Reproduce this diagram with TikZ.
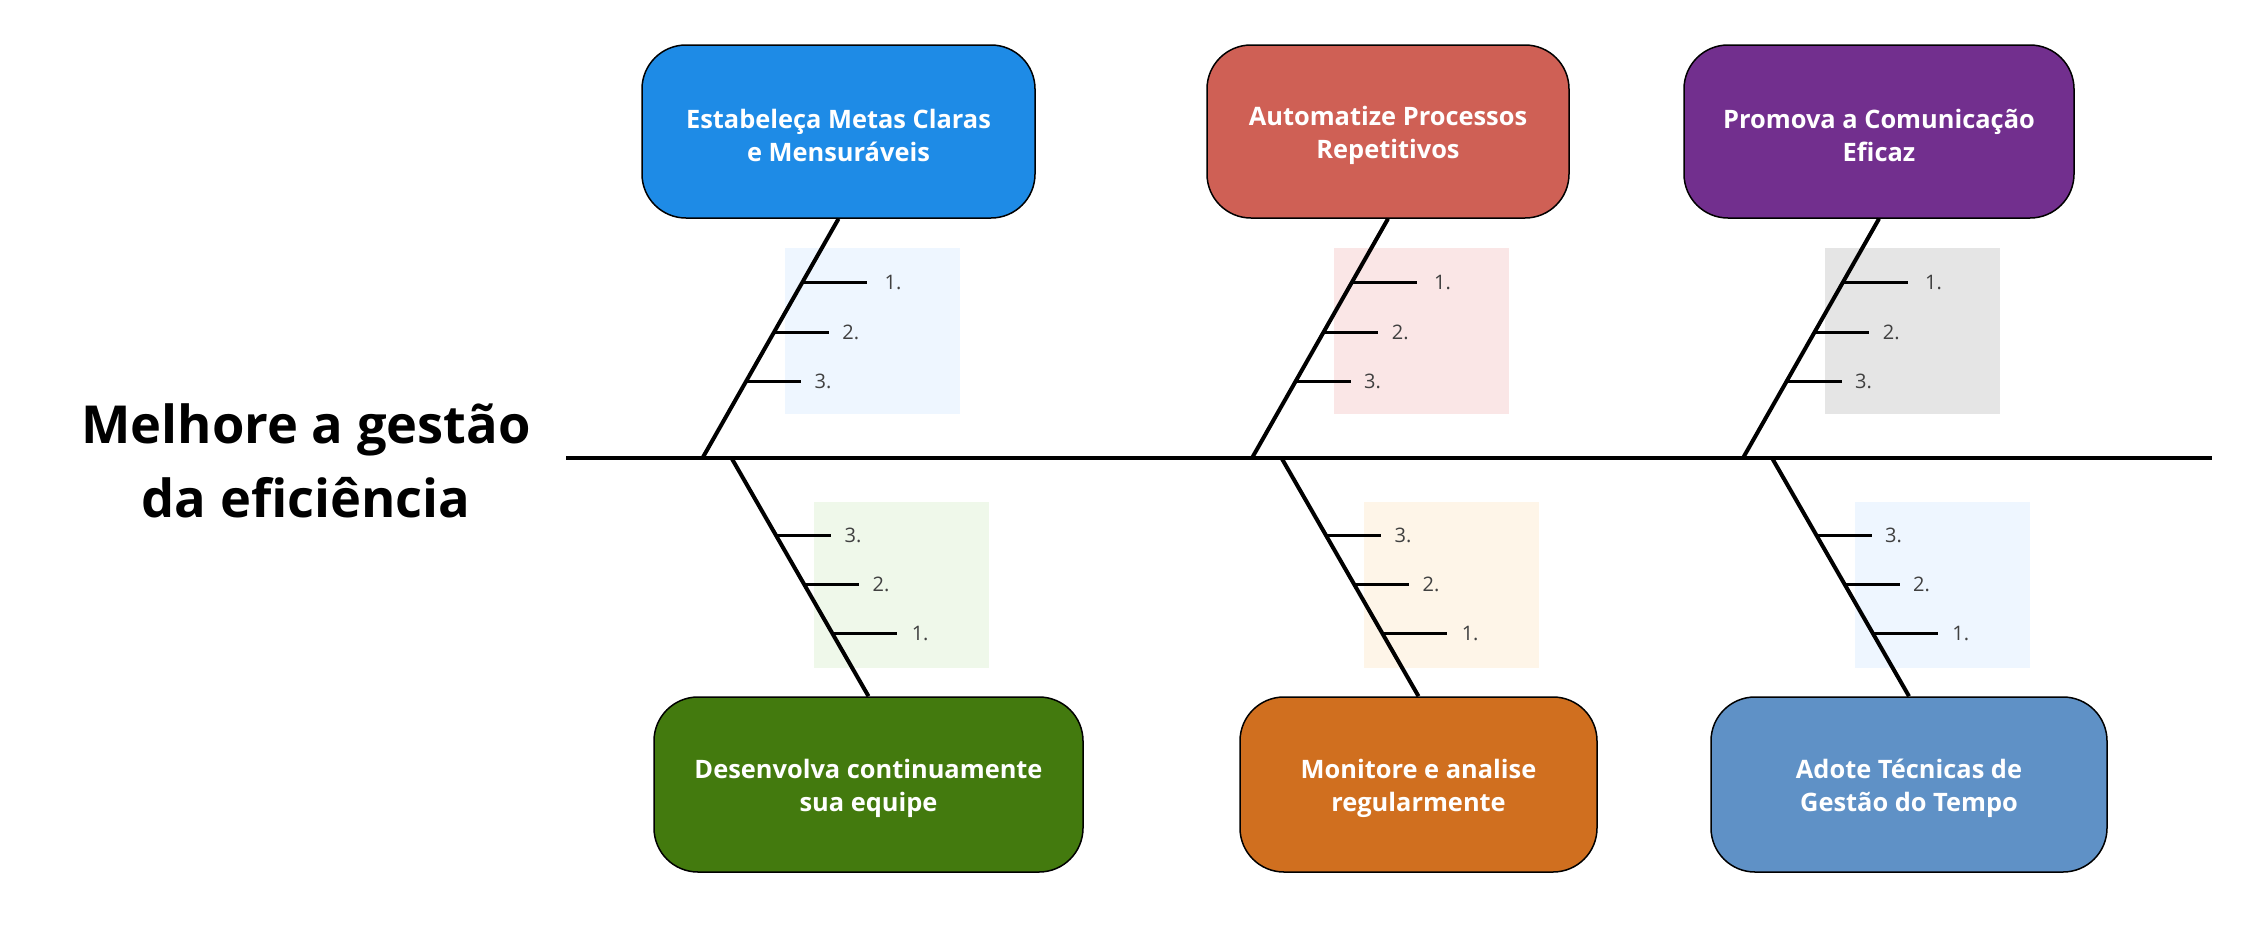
\documentclass[tikz,border=0pt]{standalone}
\usepackage{fontspec}
\setmainfont{Open Sans}
\usetikzlibrary{calc}
\definecolor{cBlue}{HTML}{1E8BE6}
\definecolor{cRed}{HTML}{CF6055}
\definecolor{cPurple}{HTML}{722F8E}
\definecolor{cGreen}{HTML}{437A0E}
\definecolor{cOrange}{HTML}{D06F1F}
\definecolor{cSteel}{HTML}{5F91C6}
\definecolor{pBlue}{HTML}{EEF6FF}
\definecolor{pRed}{HTML}{FAE6E6}
\definecolor{pGray}{HTML}{E5E5E5}
\definecolor{pGreen}{HTML}{EFF8EA}
\definecolor{pOrange}{HTML}{FEF5E8}
\definecolor{pSteel}{HTML}{EEF6FF}
\definecolor{numgray}{HTML}{404040}
\begin{document}
\begin{tikzpicture}[x=0.5pt,y=-0.5pt,
  cause/.style={draw=black, line width=0.75pt, rounded corners=22pt, inner sep=0pt},
  causetext/.style={inner sep=0pt, text=white, font=\bfseries\fontsize{12.7}{16.5}\selectfont, align=center},
  bone/.style={line width=2pt},
  ticksty/.style={line width=1.5pt},
  spine/.style={line width=2pt},
  num/.style={anchor=west, inner sep=0pt, font=\fontsize{10}{12}\selectfont, text=numgray}]
\useasboundingbox (0,0) rectangle (2259,932);

% title
\node[font=\bfseries\fontsize{26.2}{37}\selectfont, align=center] (title) at (306,461) {Melhore a gestão\\da eficiência};

% spine
\coordinate (spL) at (566,458);
\coordinate (spR) at (2212,458);

% upper branches
\foreach \n/\c/\col/\pad/\w/\txt in {
  1/838.5/cBlue/pBlue/196.5/{Estabeleça Metas Claras\\e Mensuráveis},
  2/1388/cRed/pRed/181/{Automatize Processos\\Repetitivos},
  3/1879/cPurple/pGray/195/{Promova a Comunicação\\Eficaz}}{
  \fill[\pad] (\c-54,248) rectangle (\c+121,414);
  \node[cause, fill=\col, minimum width=\w pt, minimum height=86.5pt] (b\n) at (\c,131.5) {};
  \node[causetext] (b\n t) at ([yshift=-2pt]b\n.center) {\txt};
  \coordinate (s\n) at (\c-136,458);
  \draw[bone] (b\n.south) -- (s\n);
  \coordinate (t\n a) at ($(b\n.south)!0.2667!(s\n)$);
  \coordinate (t\n b) at ($(b\n.south)!0.475!(s\n)$);
  \coordinate (t\n c) at ($(b\n.south)!0.679!(s\n)$);
  \draw[ticksty] (t\n a) -- ++(65,0) coordinate (e\n a);
  \draw[ticksty] (t\n b) -- ++(55,0) coordinate (e\n b);
  \draw[ticksty] (t\n c) -- ++(55,0) coordinate (e\n c);
  \node[num] (l\n a) at ([xshift=8.5pt]e\n a) {1.};
  \node[num] (l\n b) at ([xshift=6.5pt]e\n b) {2.};
  \node[num] (l\n c) at ([xshift=6.5pt]e\n c) {3.};
}

% lower branches
\foreach \n/\c/\col/\pad/\w/\txt in {
  4/868.5/cGreen/pGreen/214.5/{Desenvolva continuamente\\sua equipe},
  5/1418.5/cOrange/pOrange/178.5/{Monitore e analise\\regularmente},
  6/1909/cSteel/pSteel/198/{Adote Técnicas de\\Gestão do Tempo}}{
  \fill[\pad] (\c-54.5,502) rectangle (\c+120.5,668);
  \node[cause, fill=\col, minimum width=\w pt, minimum height=87.5pt] (b\n) at (\c,784.5) {};
  \node[causetext] (b\n t) at ([yshift=-2pt]b\n.center) {\txt};
  \coordinate (s\n) at (\c-137,458);
  \draw[bone] (s\n) -- (b\n.north);
  \coordinate (t\n c) at ($(s\n)!0.3264!(b\n.north)$);
  \coordinate (t\n b) at ($(s\n)!0.5314!(b\n.north)$);
  \coordinate (t\n a) at ($(s\n)!0.7364!(b\n.north)$);
  \draw[ticksty] (t\n c) -- ++(55,0) coordinate (e\n c);
  \draw[ticksty] (t\n b) -- ++(55,0) coordinate (e\n b);
  \draw[ticksty] (t\n a) -- ++(65,0) coordinate (e\n a);
  \node[num] (l\n c) at ([xshift=6.5pt]e\n c) {3.};
  \node[num] (l\n b) at ([xshift=6.5pt]e\n b) {2.};
  \node[num] (l\n a) at ([xshift=7pt]e\n a) {1.};
}

\draw[spine] (spL) -- (spR);
\end{tikzpicture}
\end{document}
